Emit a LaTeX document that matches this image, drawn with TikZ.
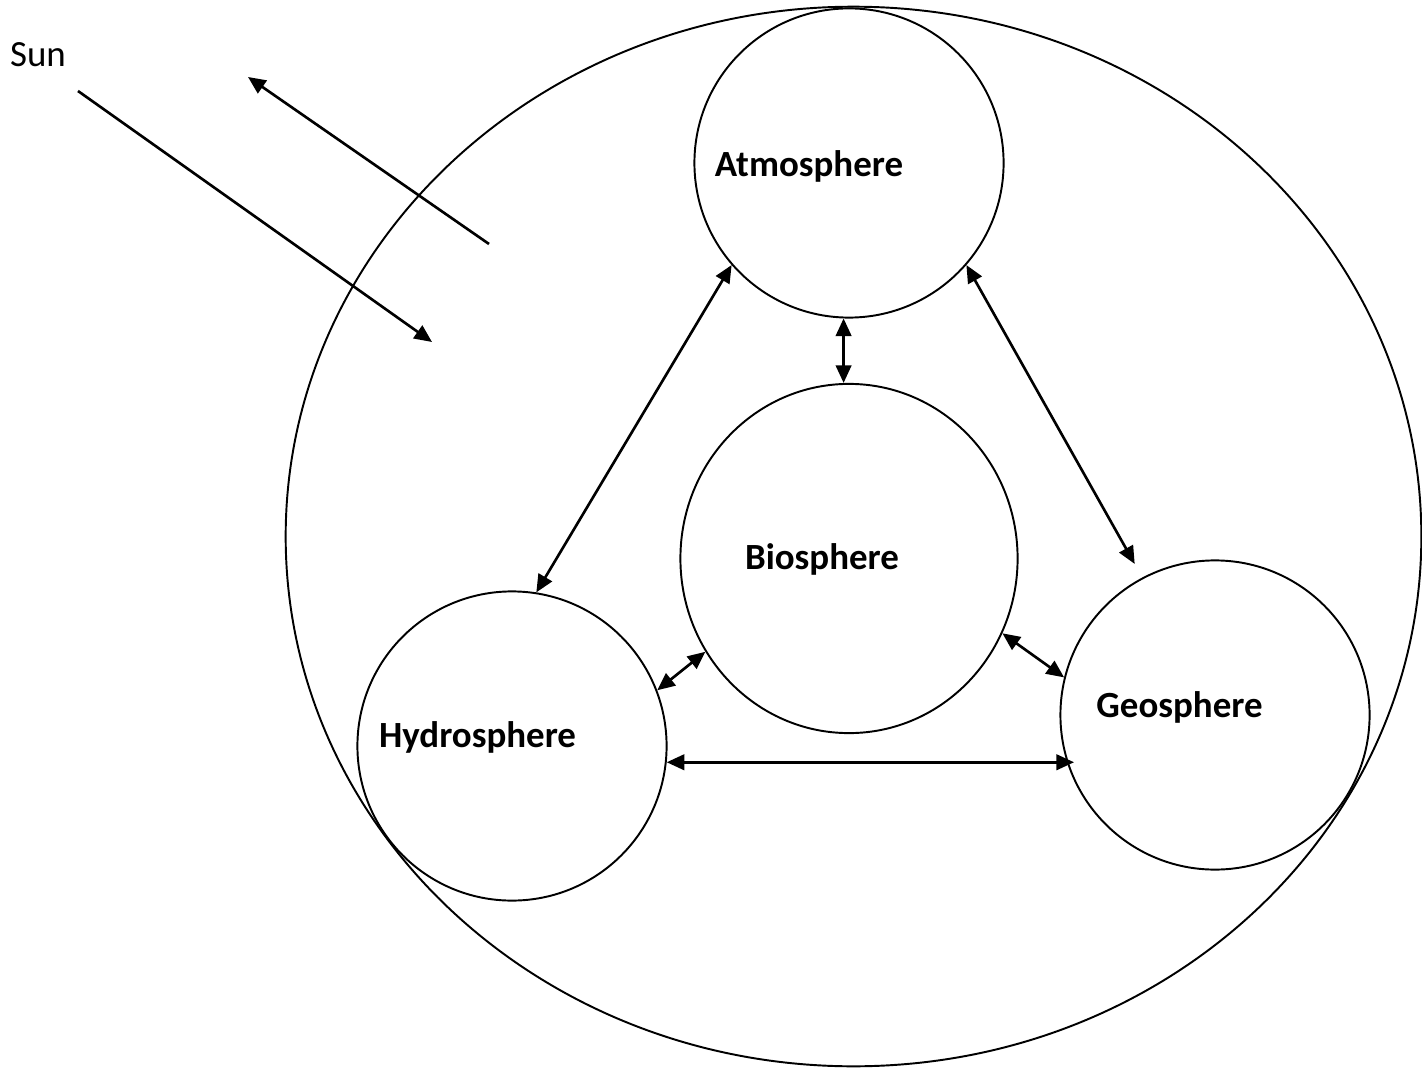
\documentclass[tikz,border=0pt]{standalone}
\usepackage{fontspec}
\setmainfont{Carlito}
\usetikzlibrary{arrows.meta,calc,shapes.geometric}

\begin{document}
\begin{tikzpicture}[x=0.01cm,y=-0.01cm,>={Triangle[length=5pt,width=4.4pt]},
  sphere/.style={draw,circle,line width=0.55pt,minimum size=3.09cm,inner sep=0pt},
  flow/.style={<->,line width=0.75pt},
  lbl/.style={anchor=base,font=\fontsize{10.5}{12}\selectfont\bfseries}]
  \useasboundingbox (0,0) rectangle (1422,1067);
  % earth system boundary
  \draw[line width=0.55pt] (853.5,536.5) ellipse [x radius=5.675cm, y radius=5.295cm];
  \node[sphere] (atm) at (849,163) {};
  \node[sphere,ellipse,minimum width=3.37cm,minimum height=3.49cm] (bio) at (849,558.5) {};
  \node[sphere] (hyd) at (512,746) {};
  \node[sphere] (geo) at (1215,715) {};
  \node[lbl] (atmtext) at (809,177) {Atmosphere};
  \node[lbl] (biotext) at (822,569) {Biosphere};
  \node[lbl] (hydtext) at (477.5,747) {Hydrosphere};
  \node[lbl] (geotext) at (1179.5,717) {Geosphere};
  \node[anchor=base,font=\fontsize{10.5}{12}\selectfont] (sun) at (38,67) {Sun};
  % incoming and reflected radiation
  \coordinate (inA) at (78,91);
  \coordinate (inB) at (432,342);
  \coordinate (outA) at (489,244);
  \coordinate (outB) at (248,77);
  \draw[->,line width=0.75pt] (inA) -- (inB);
  \draw[->,line width=0.75pt] (outA) -- (outB);
  % exchanges between the spheres
  \draw[flow] (atm.268) -- (atm.268 |- bio.north);
  \draw[flow] (atm.221) -- (hyd.81);
  \draw[flow] (atm.319) -- ($(geo.center)!1.1!(geo.118)$);
  \draw[flow] (bio.213) -- (hyd.21);
  \draw[flow] (bio.-26) -- (geo.166);
  \draw[flow] (hyd.-6) -- (hyd.-6 -| geo.205);
\end{tikzpicture}
\end{document}
